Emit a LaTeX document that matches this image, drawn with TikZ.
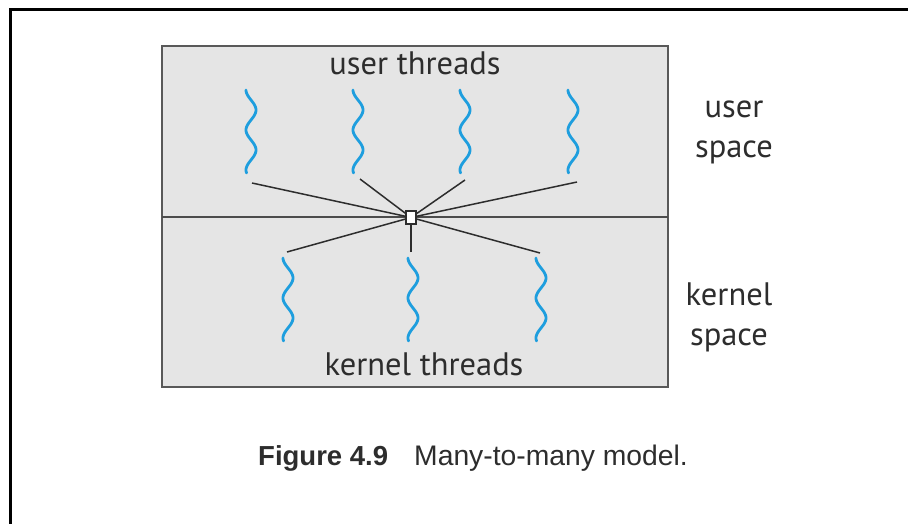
\documentclass[tikz,border=0pt]{standalone}
\usepackage{fontspec}
\setmainfont{PT Sans}
\newfontfamily\capfont{Liberation Sans}
\definecolor{threadblue}{RGB}{30,158,222}
\definecolor{inkgray}{RGB}{45,45,45}
\begin{document}
\begin{tikzpicture}[x=1pt,y=-1pt,
  label text/.style={font=\fontsize{32.5}{38}\selectfont, text=inkgray, inner sep=0pt, anchor=base},
  cap text/.style={font=\capfont\fontsize{27.5}{33}\selectfont, text=inkgray, inner sep=0pt, anchor=base west},
  link/.style={draw=inkgray, line width=1.5pt},
  wave/.style={draw=threadblue, line width=2.8pt, line cap=round},
  hubbox/.style={draw=inkgray, fill=white, line width=1.3pt, minimum width=10pt, minimum height=13pt, inner sep=0pt}
]
\useasboundingbox (0,0) rectangle (908,524);
\fill[white] (0,0) rectangle (908,524);
% outer frame, open to the right and bottom
\draw[line width=3pt] (10,524) -- (10,10) -- (908,10);

% user / kernel region box
\draw[fill=black!10, draw=black!65, line width=1.6pt] (162,46) rectangle (668,387);
\draw[draw=black!70, line width=1.6pt] (162,217) -- (668,217);

% thread squiggles
\newcommand{\thread}[2]{%
  \draw[wave] plot[domain=0:83, samples=80, smooth] ({#1 - 5*cos(\x*9)}, {#2+\x});}
\foreach \cx in {251,358,465,573} {\thread{\cx}{90}}
\foreach \cx in {288,413,541} {\thread{\cx}{258}}

% endpoints of the links at each thread
\coordinate (u1) at (252,183);
\coordinate (u2) at (360,179);
\coordinate (u3) at (465,180);
\coordinate (u4) at (577,182);
\coordinate (k1) at (287,252);
\coordinate (k2) at (411,252);
\coordinate (k3) at (540,253);

\node[hubbox] (hub) at (411,217.5) {};
\foreach \e in {u1,u2,u3,u4,k1,k2,k3} {\draw[link] (\e) -- (hub.center);}
\node[hubbox] at (hub.center) {};

% labels
\node[label text] (ut) at (415,75) {user threads};
\node[label text] (kt) at (424,375) {kernel threads};
\node[label text] (us1) at (734,118) {user};
\node[label text] (us2) at (734,158) {space};
\node[label text] (ks1) at (729,305) {kernel};
\node[label text] (ks2) at (729,345) {space};

% caption
\node[cap text] (fig) at (258,465) {\bfseries Figure 4.9};
\node[cap text, font=\capfont\fontsize{28.3}{33}\selectfont] (cap) at (414,465) {Many-to-many model.};
\end{tikzpicture}
\end{document}
